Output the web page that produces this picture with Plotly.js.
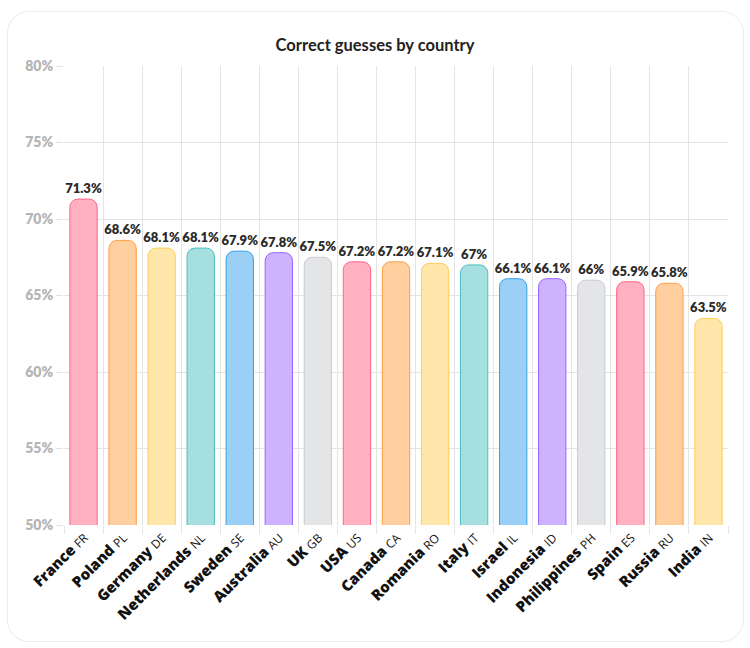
<!DOCTYPE html>
<html><head>
<meta charset="utf-8">
<script src="https://cdn.plot.ly/plotly-3.0.1.min.js"></script>
<style>
body{margin:0;background:#fff;}
#card{position:absolute;left:7px;top:11px;width:737px;height:631px;border:1px solid #ebebeb;border-radius:22px;box-sizing:border-box;}
#chart{position:absolute;left:0;top:0;width:750px;height:648px;}
</style>
</head>
<body>
<div id="card"></div>
<div id="chart"></div>
<script>
const countries = ["France","Poland","Germany","Netherlands","Sweden","Australia","UK","USA","Canada","Romania","Italy","Israel","Indonesia","Philippines","Spain","Russia","India"];
const codes = ["FR","PL","DE","NL","SE","AU","GB","US","CA","RO","IT","IL","ID","PH","ES","RU","IN"];
const values = [71.3,68.6,68.1,68.1,67.9,67.8,67.5,67.2,67.2,67.1,67,66.1,66.1,66,65.9,65.8,63.5];
const yTicks = [50,55,60,65,70,75,80];

const fillPalette = ["#FFB1C1","#FFCF9F","#FFE6AA","#A5DFDF","#9AD0F5","#CCB2FF","#E4E5E7"];
const borderPalette = ["#FF6384","#FF9F40","#FFCD56","#4BC0C0","#36A2EB","#9966FF","#C9CBCF"];

const labels = countries.map((c,i)=>c+" <span style='font-size:12px;font-weight:400'>"+codes[i]+"</span>");
const fills = values.map((v,i)=>fillPalette[i%fillPalette.length]);
const borders = values.map((v,i)=>borderPalette[i%borderPalette.length]);

const trace = {
  type:'bar',
  x: labels,
  y: values,
  text: values.map(v=>v+"%"),
  textposition:'outside',
  constraintext:'none',
  textfont:{family:'Lato, sans-serif',size:13,color:'#2a2a2a',weight:800},
  cliponaxis:false,
  marker:{color:fills,line:{color:borders,width:1},cornerradius:8},
  hoverinfo:'none'
};

const layout = {
  width:750,height:648,
  paper_bgcolor:'rgba(0,0,0,0)',plot_bgcolor:'rgba(0,0,0,0)',
  margin:{l:64,r:22,t:66,b:123},
  title:{text:'Correct guesses by country',font:{family:'Lato, sans-serif',size:16.5,color:'#222',weight:700},x:0.5,xanchor:'center',y:1-45/648,yref:'container',yanchor:'middle'},
  bargap:0.3,
  showlegend:false,
  xaxis:{
    type:'category',
    tickson:'boundaries',
    showgrid:true,gridcolor:'#e4e4e4',gridwidth:1,
    ticks:'outside',ticklen:8,tickcolor:'#e4e4e4',
    tickangle:-45,
    tickfont:{family:'Open Sans, sans-serif',size:15,color:'#111',weight:800},
    showline:false,zeroline:false,fixedrange:true
  },
  yaxis:{
    range:[50,80],
    tickvals:yTicks,
    ticktext:yTicks.map(v=>v+"%"),
    showgrid:true,gridcolor:'#e4e4e4',gridwidth:1,
    ticks:'outside',ticklen:7,tickcolor:'#e4e4e4',
    tickfont:{family:'Lato, sans-serif',size:14,color:'#b5b5b5',weight:800},
    showline:false,zeroline:false,fixedrange:true
  }
};

Plotly.newPlot('chart',[trace],layout,{displayModeBar:false,staticPlot:true});
</script>
</body></html>
